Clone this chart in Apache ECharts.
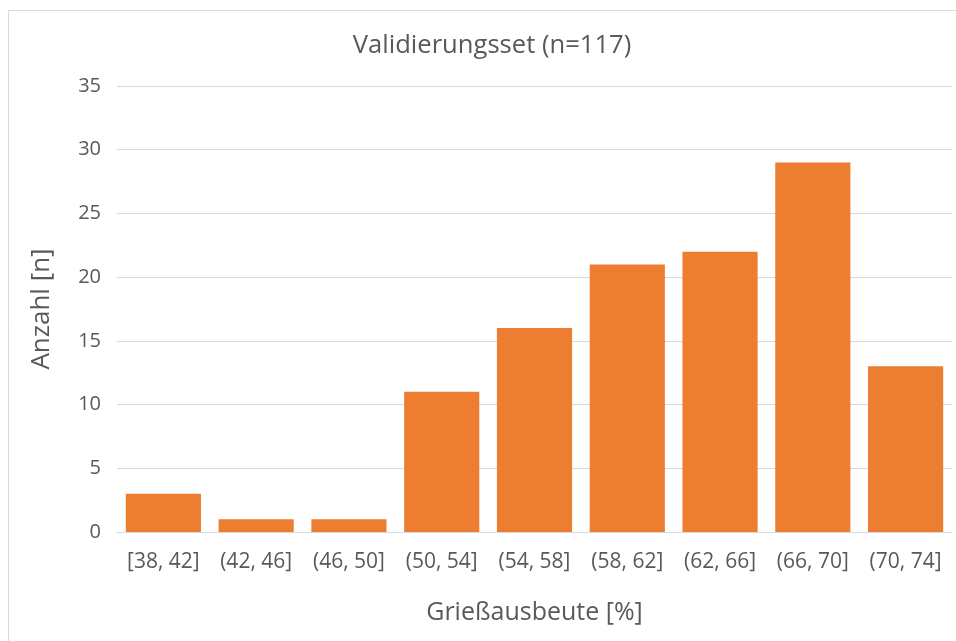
<!DOCTYPE html>
<html>
<head>
<meta charset="utf-8">
<script src="https://cdn.jsdelivr.net/npm/echarts@6/dist/echarts.min.js"></script>
<style>
  html, body { margin: 0; padding: 0; background: #fff; }
  #chart { width: 956px; height: 641px; }
</style>
</head>
<body>
<div id="chart"></div>
<script>
// Histogram bins and counts
const categories = ['[38, 42]', '(42, 46]', '(46, 50]', '(50, 54]', '(54, 58]', '(58, 62]', '(62, 66]', '(66, 70]', '(70, 74]'];
const counts = [3, 1, 1, 11, 16, 21, 22, 29, 13];
const yTicks = [0, 5, 10, 15, 20, 25, 30, 35];

const FONT = 'Open Sans';
const TEXT = '#595959';

const chart = echarts.init(document.getElementById('chart'), null, { renderer: 'canvas' });
chart.setOption({
  animation: false,
  backgroundColor: '#ffffff',
  textStyle: { fontFamily: FONT },
  title: {
    text: 'Validierungsset (n=117)',
    left: 487,
    textAlign: 'center',
    top: 28,
    textStyle: { fontFamily: FONT, fontSize: 25.6, fontWeight: 'normal', color: TEXT }
  },
  graphic: [{
    type: 'rect',
    shape: { x: 8.5, y: 10.5, width: 1000, height: 700 },
    style: { fill: 'none', stroke: '#d9d9d9', lineWidth: 1 },
    silent: true
  }],
  grid: { left: 117, right: 4, top: 86, bottom: 109, containLabel: false },
  xAxis: {
    type: 'category',
    data: categories,
    name: 'Grießausbeute [%]',
    nameLocation: 'middle',
    nameGap: 68,
    nameTextStyle: { fontFamily: FONT, fontSize: 25, color: TEXT },
    axisLine: { show: true, lineStyle: { color: '#d9d9d9', width: 1 } },
    axisTick: { show: false },
    axisLabel: { fontFamily: FONT, fontSize: 21, color: TEXT, margin: 20, interval: 0, hideOverlap: false }
  },
  yAxis: {
    type: 'value',
    min: yTicks[0],
    max: yTicks[yTicks.length - 1],
    interval: 5,
    name: 'Anzahl [n]',
    nameLocation: 'middle',
    nameGap: 62,
    nameRotate: 90,
    nameTextStyle: { fontFamily: FONT, fontSize: 26, color: TEXT },
    axisLine: { show: false },
    axisTick: { show: false },
    axisLabel: { fontFamily: FONT, fontSize: 20, color: TEXT, margin: 16 },
    splitLine: { show: true, lineStyle: { color: '#d9d9d9', width: 1 } }
  },
  series: [{
    type: 'bar',
    data: counts,
    barCategoryGap: '19%',
    itemStyle: { color: '#ED7D31' }
  }]
});
</script>
</body>
</html>
